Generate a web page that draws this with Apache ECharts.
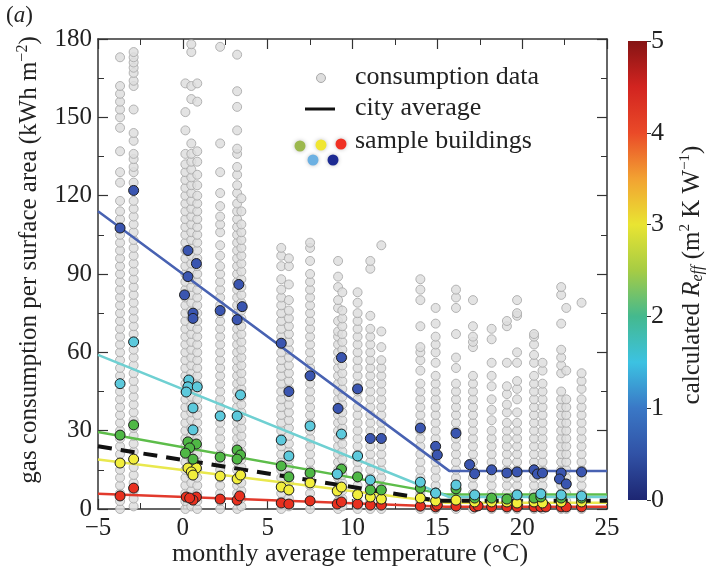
<!DOCTYPE html>
<html>
<head>
<meta charset="utf-8">
<script src="https://cdn.jsdelivr.net/npm/echarts@6/dist/echarts.min.js"></script>
<style>
  html, body { margin: 0; padding: 0; background: #fff; }
  #chart { width: 713px; height: 571px; }
</style>
</head>
<body>
<div id="chart"></div>
<script>
// monthly temperature of each column of consumption data (°C)
const grayTemps = [-3.7, -2.9, 0.15, 0.5, 0.85, 2.2, 3.2, 3.45, 5.8, 6.25, 7.5, 9.15, 9.4, 10.3, 11.05, 11.7,
  14.0, 14.9, 16.1, 17.1, 18.2, 19.1, 19.7, 20.7, 21.2, 22.3, 22.6, 23.5];
// gas consumption per surface area (kWh m-2), one list per column
const grayValues = [
  [0,3,6,9,12,15,18,21,24,27,30,33,36,39,42,45,48,51,54,57,60,63,66,69,72,75,78,81,84,87,90,93,96,99,102,105,108,111,114,118,125,129,137,146,150,153,156,159,162,173],
  [1,4,7,10,13,16,19,22,25,28,31,34,37,40,43,46,49,52,55,58,61,64,67,70,73,76,79,82,85,88,91,94,97,100,103,106,109,112,115,118,125,129,131,134,136,141,144,153,162,164,167,169,171,173,175],
  [0,3,6,9,12,15,18,21,24,27,30,33,36,39,42,45,48,51,54,57,60,63,66,69,72,75,78,81,84,87,90,93,96,99,102,105,108,111,114,117,120,123,126,129,132,136,145,152,163],
  [1,4,7,10,13,16,19,22,25,28,31,34,37,40,43,46,49,52,55,58,61,64,67,70,73,76,79,82,85,88,91,94,97,100,103,106,109,112,115,118,121,124,127,130,133,136,140,157,162,175,178],
  [0,3,6,9,12,15,18,21,24,27,30,33,36,39,42,45,48,51,54,57,60,63,66,69,72,75,78,81,84,87,90,93,96,99,102,105,108,111,114,117,120,124,128,133,137,156,163],
  [0,3,6,9,12,15,18,21,24,27,30,33,36,39,42,45,48,51,54,57,60,63,66,69,72,75,78,81,84,87,90,93,97,101,106,109,112,116,121,129,140,177],
  [0,3,6,9,12,15,18,21,24,27,30,33,36,39,42,45,48,51,54,57,60,63,66,69,72,75,78,81,84,87,90,93,96,99,102,105,108,111,114,117,121,124,128,131,136,138,145,154,160,174],
  [1,4,7,10,13,16,19,22,25,28,31,34,37,40,43,46,49,52,55,58,61,64,67,70,73,76,79,82,85,88,91,94,97,100,103,106,109,114,119],
  [0,3,6,9,12,15,18,21,24,27,30,33,36,39,42,45,48,51,54,57,60,63,66,69,72,75,78,81,84,88,93,97,100],
  [1,4,7,10,13,16,19,22,25,28,31,34,37,40,43,46,49,52,55,58,61,64,67,70,73,76,80,86,93,96],
  [0,3,6,9,12,15,18,21,24,27,30,33,36,39,42,45,48,51,54,57,60,63,66,69,72,75,78,81,84,87,90,95,100,102],
  [0,3,6,9,12,15,18,21,24,27,30,33,36,39,42,45,48,51,54,57,60,63,66,68,72,77,80,85,89,95],
  [1,4,7,10,13,16,19,22,25,28,31,34,37,40,43,46,49,52,55,58,61,64,67,70,73,76,83],
  [0,3,6,9,12,15,18,21,24,27,30,33,36,39,42,45,48,51,54,57,60,63,66,69,72,75,79,83],
  [0,3,6,9,12,15,18,21,24,27,30,33,36,39,42,45,48,51,54,57,60,63,66,69,74,92,95],
  [0,3,6,9,12,15,18,21,24,27,30,33,36,39,42,45,48,51,54,57,62,68,101],
  [0,3,6,9,12,15,18,21,24,27,30,33,36,39,42,45,48,53,57,60,62,70,80,84,88],
  [0,3,6,9,12,15,18,21,24,27,30,33,36,39,42,45,48,51,56,60,63,66,71,77],
  [0,3,6,9,12,15,18,21,24,27,30,33,36,39,42,45,48,54,58,67,77,81,84],
  [0,3,6,9,12,15,18,21,24,27,30,33,36,39,42,45,48,51,62,64,66,70,80],
  [0,3,6,9,12,15,18,21,24,27,30,34,38,42,47,51,56,65,69],
  [0,3,6,9,12,15,18,21,24,27,30,33,37,40,44,47,56,70,72],
  [0,3,6,9,12,15,18,21,24,27,30,33,37,42,46,49,56,60,74,75,80],
  [0,3,6,9,12,15,18,21,24,27,30,33,36,39,42,45,48,51,56,59,63,66,67],
  [0,3,6,9,12,15,18,21,24,27,30,33,36,39,42,45,48,53,56],
  [0,3,6,9,12,15,18,21,24,27,30,33,36,39,42,45,52,55,58,61,71,82,85],
  [0,3,6,9,12,15,18,21,24,27,30,33,36,39,42,53,77],
  [0,3,6,9,12,15,18,21,24,27,30,33,36,39,42,46,49,52,79]
];

// sample buildings: [temperature, consumption]
const blueBuilding = [[-3.7,107.6],[-2.9,122],[0.3,99],[0.8,94],[0.3,89],[0.1,82],[0.6,75],[0.6,73],[2.2,76],
  [3.3,86],[3.5,77.5],[3.2,72.5],[5.8,63.5],[6.25,45],[7.5,51],[9.15,38.5],[9.35,58],[10.3,46],[11.05,27],[11.7,27],
  [14.0,31],[14.9,24],[15.0,20.7],[16.1,29],[16.9,17],[17.2,13.5],[18.2,15],[19.1,13.8],[19.7,14.2],[20.7,15],
  [20.9,13.4],[21.2,13.8],[22.3,13.8],[22.2,11.5],[22.6,9.6],[23.5,14.2]];
const cyanBuilding = [[-3.7,48],[-2.9,64],[0.35,49.4],[0.3,46.8],[0.85,46.8],[0.2,44.8],[0.6,38.7],[0.6,30.3],[2.2,35.6],
  [3.4,43.7],[3.2,35.6],[5.8,26.4],[6.25,20.3],[7.5,31.8],[9.35,28.7],[9.1,13.4],[10.3,20.3],[11.05,11.1],[14.0,10.3],
  [14.9,6.1],[16.1,9.2],[17.2,5.4],[19.7,5.4],[21.1,5.8],[22.3,5.4],[23.5,5.0]];
const greenBuilding = [[-3.7,28.3],[-2.9,32.2],[0.3,25.7],[0.8,24.9],[0.4,23.4],[0.15,21.4],[0.6,19.1],[2.2,19.9],
  [3.2,22.6],[3.4,20.7],[3.2,19.1],[5.8,16.5],[6.25,12.3],[7.5,13.8],[9.35,15.3],[9.1,13.4],[10.3,12.3],[11.05,7.3],
  [11.7,7.3],[14.0,8.0],[14.9,6.1],[16.1,7.7],[17.2,4.2],[18.2,4.2],[19.1,3.8],[20.7,4.2],[21.1,4.6],[22.3,4.2],[23.5,4.2]];
const yellowBuilding = [[-3.7,17.6],[-2.9,19.1],[0.3,15.7],[0.8,15.7],[0.5,14.2],[0.6,13],[2.2,12.6],[3.2,11.5],[3.4,13],
  [5.8,8.4],[6.25,7.3],[7.5,10],[9.1,6.9],[9.35,8.4],[10.3,5.5],[11.05,4.6],[11.7,3.8],[14.0,4.2],[14.9,3.1],[16.1,3.4],
  [17.2,2.7],[18.2,2.7],[19.1,2.7],[19.7,2.3],[20.7,2.7],[21.2,2.3],[22.3,2.7],[23.5,2.7]];
const redBuilding = [[-3.7,5],[-2.9,8],[0.2,4.6],[0.8,4.6],[0.6,3.4],[0.4,4.2],[2.2,3.8],[3.2,3.4],[3.35,5],[5.8,2.3],
  [6.25,1.9],[7.5,3.1],[9.1,1.9],[9.35,2.7],[10.3,1.9],[11.05,1.5],[11.7,1.5],[14.0,1.1],[14.9,0.8],[15.0,1.5],[16.1,1.1],
  [17.2,0.8],[17.4,1.2],[18.2,0.8],[19.1,0.8],[19.7,0.8],[20.7,0.8],[21.1,0.8],[21.4,0.8],[22.3,0.8],[22.6,0.8],[23.5,0.8]];

// fitted lines (temperature, consumption)
const blueFit = [[-5,114],[15.7,14.6],[25,14.6]];
const cyanFit = [[-5,59],[15.7,4.6],[25,4.6]];
const greenFit = [[-5,29.5],[15.5,5.6],[25,5.6]];
const yellowFit = [[-5,19],[15.5,2.4],[25,2.4]];
const redFit = [[-5,5.8],[15.5,0.9],[25,0.9]];
const cityAverage = [[-5,24],[15,3.2],[25,3.2]];

// colour bar (R_eff, m2 K W-1)
const colorbarMax = [5];

const FONT = "'Liberation Serif', 'Times New Roman', serif";

const chart = echarts.init(document.getElementById('chart'));

const grayData = [];
grayTemps.forEach((t, i) => {
  grayValues[i].forEach(v => grayData.push([t, v]));
});

function fitLine (data, color) {
  return {
    type: 'line',
    data: data,
    symbol: 'none',
    z: 3,
    lineStyle: { color: color, width: 2.5 },
    silent: true
  };
}

function buildingPoints (data, color) {
  return {
    type: 'scatter',
    data: data,
    symbolSize: 10,
    z: 5,
    itemStyle: { color: color, borderColor: '#1e1e1e', borderWidth: 1, opacity: 1 }
  };
}

const axisLabelStyle = { fontFamily: FONT, fontSize: 25, color: '#222' };
const tickStyle = { lineStyle: { color: '#333', width: 1.2 } };

const option = {
  animation: false,
  grid: [
    { left: 98, top: 39, width: 509, height: 470 },
    { left: 628, top: 41, width: 19, height: 459 }
  ],
  xAxis: [
    {
      gridIndex: 0, type: 'value', min: -5, max: 25, interval: 5,
      axisLine: { onZero: false, lineStyle: { color: '#333', width: 1.5 } },
      axisTick: { inside: true, length: 10, ...tickStyle },
      minorTick: { show: true, splitNumber: 2, length: 6, lineStyle: { color: '#333' } },
      axisLabel: { ...axisLabelStyle, margin: 7, formatter: v => String(v).replace('-', '\u2212') },
      splitLine: { show: false }
    },
    {
      gridIndex: 0, type: 'value', min: -5, max: 25, interval: 5, position: 'top',
      axisLine: { onZero: false, lineStyle: { color: '#333', width: 1.5 } },
      axisTick: { inside: true, length: 10, ...tickStyle },
      minorTick: { show: true, splitNumber: 2, length: 6, lineStyle: { color: '#333' } },
      axisLabel: { show: false },
      splitLine: { show: false }
    },
    {
      gridIndex: 1, type: 'category', data: ['R'], show: false
    }
  ],
  yAxis: [
    {
      gridIndex: 0, type: 'value', min: 0, max: 180, interval: 30,
      axisLine: { show: true, onZero: false, lineStyle: { color: '#333', width: 1.5 } },
      axisTick: { show: true, inside: true, length: 10, ...tickStyle },
      minorTick: { show: true, splitNumber: 2, length: 6, lineStyle: { color: '#333' } },
      axisLabel: { ...axisLabelStyle, margin: 6 },
      splitLine: { show: false }
    },
    {
      gridIndex: 0, type: 'value', min: 0, max: 180, interval: 30, position: 'right',
      axisLine: { show: true, onZero: false, lineStyle: { color: '#333', width: 1.5 } },
      axisTick: { show: true, inside: true, length: 10, ...tickStyle },
      minorTick: { show: true, splitNumber: 2, length: 6, lineStyle: { color: '#333' } },
      axisLabel: { show: false },
      splitLine: { show: false }
    },
    {
      gridIndex: 1, type: 'value', min: 0, max: 5, interval: 1, position: 'right',
      axisLine: { show: false },
      axisTick: { show: true, inside: false, length: 4, lineStyle: { color: '#333' } },
      axisLabel: { ...axisLabelStyle, fontSize: 26, margin: 4 },
      splitLine: { show: false }
    }
  ],
  series: [
    {
      type: 'scatter',
      data: grayData,
      symbolSize: 9,
      z: 2,
      silent: true,
      itemStyle: { color: '#dedede', borderColor: '#a8a8a8', borderWidth: 1, opacity: 0.85 }
    },
    fitLine(redFit, '#e23a2c'),
    fitLine(yellowFit, '#e9e84e'),
    fitLine(greenFit, '#5dbd4a'),
    fitLine(cyanFit, '#6fd0d2'),
    fitLine(blueFit, '#4862b2'),
    {
      type: 'line',
      data: cityAverage,
      symbol: 'none',
      z: 4,
      lineStyle: { color: '#111', width: 4, type: [14, 9] },
      silent: true
    },
    buildingPoints(redBuilding, '#e8301f'),
    buildingPoints(yellowBuilding, '#f2ee3c'),
    buildingPoints(greenBuilding, '#4fb845'),
    buildingPoints(cyanBuilding, '#5cc9dc'),
    buildingPoints(blueBuilding, '#3a55b0'),
    {
      type: 'bar',
      xAxisIndex: 2,
      yAxisIndex: 2,
      data: colorbarMax,
      barWidth: '100%',
      silent: true,
      itemStyle: {
        color: new echarts.graphic.LinearGradient(0, 0, 0, 1, [
          { offset: 0, color: '#851414' },
          { offset: 0.1, color: '#d22420' },
          { offset: 0.2, color: '#ea4a28' },
          { offset: 0.3, color: '#f2a232' },
          { offset: 0.4, color: '#e9e432' },
          { offset: 0.5, color: '#a6cc44' },
          { offset: 0.6, color: '#44b98e' },
          { offset: 0.7, color: '#3cc2e2' },
          { offset: 0.8, color: '#3a78c6' },
          { offset: 0.9, color: '#3152a6' },
          { offset: 1, color: '#1d2672' }
        ])
      }
    }
  ],
  graphic: [
    {
      type: 'text', left: 6, top: 4,
      style: { text: '({i|a})', font: '23px ' + FONT, fill: '#222',
        rich: { i: { fontStyle: 'italic', fontSize: 23, fontFamily: FONT } } }
    },
    {
      type: 'text', x: 29, y: 260, rotation: Math.PI / 2,
      style: {
        text: 'gas consumption per surface area (kWh m{sup|\u22122})',
        font: '25px ' + FONT, fill: '#222', align: 'center', verticalAlign: 'middle',
        rich: { sup: { fontSize: 16, fontFamily: FONT, padding: [0, 0, 12, 0] } }
      }
    },
    {
      type: 'text', x: 350, y: 554,
      style: { text: 'monthly average temperature (\u00b0C)', font: '26px ' + FONT, fill: '#222',
        align: 'center', verticalAlign: 'middle' }
    },
    {
      type: 'text', x: 692, y: 275, rotation: Math.PI / 2,
      style: {
        text: 'calculated {i|R}{sub|eff} (m{sup|2} K W{sup|\u22121})',
        font: '25px ' + FONT, fill: '#222', align: 'center', verticalAlign: 'middle',
        rich: {
          i: { fontStyle: 'italic', fontSize: 25, fontFamily: FONT },
          sub: { fontStyle: 'italic', fontSize: 16, fontFamily: FONT, padding: [11, 0, 0, 0] },
          sup: { fontSize: 15, fontFamily: FONT, padding: [0, 0, 13, 0] }
        }
      }
    },
    // legend
    {
      type: 'circle', shape: { cx: 321, cy: 78, r: 4.5 },
      style: { fill: '#dedede', stroke: '#a8a8a8', lineWidth: 1 }
    },
    {
      type: 'text', x: 355, y: 77,
      style: { text: 'consumption data', font: '26px ' + FONT, fill: '#222', verticalAlign: 'middle' }
    },
    {
      type: 'line', shape: { x1: 305, y1: 109, x2: 335, y2: 109 },
      style: { stroke: '#111', lineWidth: 3 }
    },
    {
      type: 'text', x: 355, y: 108,
      style: { text: 'city average', font: '26px ' + FONT, fill: '#222', verticalAlign: 'middle' }
    },
    { type: 'circle', shape: { cx: 300, cy: 146, r: 5.5 }, style: { fill: '#9cb84e', shadowBlur: 4, shadowColor: 'rgba(0,0,0,0.25)' } },
    { type: 'circle', shape: { cx: 321, cy: 145, r: 5.5 }, style: { fill: '#f0e632', shadowBlur: 4, shadowColor: 'rgba(0,0,0,0.25)' } },
    { type: 'circle', shape: { cx: 341, cy: 144, r: 5.5 }, style: { fill: '#f03024', shadowBlur: 4, shadowColor: 'rgba(0,0,0,0.25)' } },
    { type: 'circle', shape: { cx: 313, cy: 160, r: 5.5 }, style: { fill: '#6cb0e2', shadowBlur: 4, shadowColor: 'rgba(0,0,0,0.25)' } },
    { type: 'circle', shape: { cx: 333, cy: 160, r: 5.5 }, style: { fill: '#1c2a92', shadowBlur: 4, shadowColor: 'rgba(0,0,0,0.25)' } },
    {
      type: 'text', x: 355, y: 141,
      style: { text: 'sample buildings', font: '26px ' + FONT, fill: '#222', verticalAlign: 'middle' }
    }
  ]
};

chart.setOption(option);
</script>
</body>
</html>
